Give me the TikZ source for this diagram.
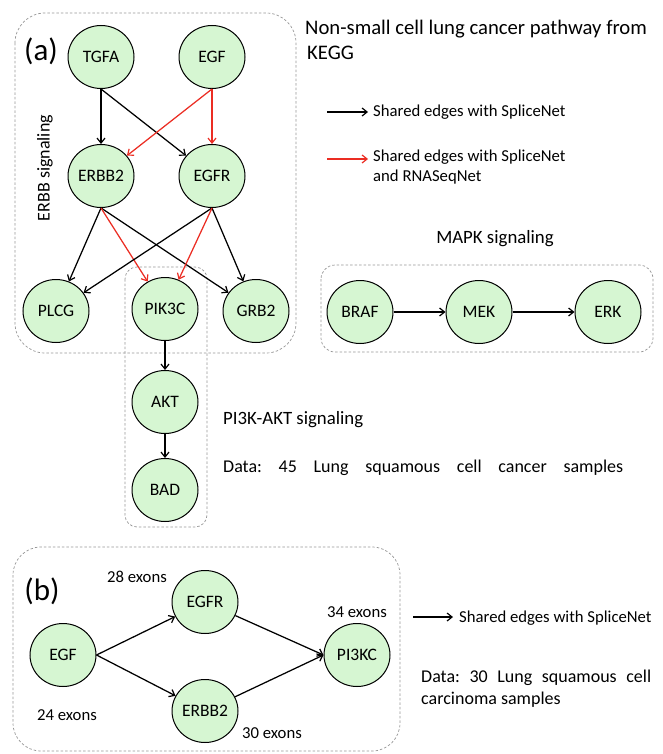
\documentclass[tikz,border=0pt]{standalone}
\usepackage{fontspec}
\setmainfont{Carlito}
\usetikzlibrary{arrows.meta,shapes.geometric}
\definecolor{nodefill}{RGB}{214,246,210}
\definecolor{boxgray}{RGB}{150,150,150}
\definecolor{edgered}{RGB}{235,45,35}
\tikzset{
  gene/.style={ellipse,draw=black,line width=1pt,fill=nodefill,minimum width=66pt,minimum height=63pt,inner sep=0pt,font=\fontsize{17.5}{19}\selectfont},
  groupbox/.style={draw=boxgray,line width=0.7pt,dash pattern=on 2.5pt off 2pt},
  blackedge/.style={draw=black,line width=1.25pt,-{Straight Barb[length=5pt,width=8pt,line width=1.2pt]}},
  rededge/.style={draw=edgered,line width=1.25pt,-{Straight Barb[length=5pt,width=8pt,line width=1.2pt]}},
  lbl/.style={inner sep=0pt,font=\fontsize{16.7}{20}\selectfont},
  head/.style={inner sep=0pt,font=\fontsize{18.8}{21}\selectfont},
  datatxt/.style={inner sep=0pt,font=\fontsize{18}{21}\selectfont\frenchspacing},
  panel/.style={inner sep=0pt,font=\fontsize{31}{34}\selectfont}
}
\begin{document}
\begin{tikzpicture}[x=1pt,y=-1pt]
\useasboundingbox (0,0) rectangle (663,754);
% group boxes
\draw[groupbox,rounded corners=30pt] (15,13) rectangle (296,353);
\draw[groupbox,rounded corners=12pt] (125,267) rectangle (207,527);
\draw[groupbox,rounded corners=14pt] (321,265) rectangle (653,352);
\draw[groupbox,rounded corners=28pt] (13,547) rectangle (400,751);
% panel a nodes
\node[gene] (tgfa) at (101,57) {TGFA};
\node[gene] (egf) at (212,57) {EGF};
\node[gene] (erbb2) at (101,176) {ERBB2};
\node[gene] (egfr) at (212,176) {EGFR};
\node[gene] (plcg) at (56,311) {PLCG};
\node[gene] (pik3c) at (165,309) {PIK3C};
\node[gene] (grb2) at (256,311) {GRB2};
\node[gene] (akt) at (165,402) {AKT};
\node[gene] (bad) at (165,490) {BAD};
\node[gene] (braf) at (360,312) {BRAF};
\node[gene] (mek) at (479,312) {MEK};
\node[gene] (erk) at (608,312) {ERK};
% panel a edges
\draw[blackedge] (tgfa.south) -- (erbb2);
\draw[blackedge] (tgfa.south) -- (egfr);
\draw[rededge] (egf.south) -- (erbb2);
\draw[rededge] (egf.south) -- (egfr);
\draw[blackedge] (erbb2.south) -- (plcg);
\draw[blackedge] (erbb2.south) -- (grb2);
\draw[rededge] (erbb2.south) -- (pik3c);
\draw[blackedge] (egfr.south) -- (plcg);
\draw[blackedge] (egfr.south) -- (grb2);
\draw[rededge] (egfr.south) -- (pik3c);
\draw[blackedge] (pik3c) -- (akt);
\draw[blackedge] (akt) -- (bad);
\draw[blackedge] (braf) -- (mek);
\draw[blackedge] (mek) -- (erk);
% panel a texts
\node[panel] (alabel) at (41,51) {(a)};
\node[inner sep=0pt,rotate=90,font=\fontsize{18}{20}\selectfont] (erbbsig) at (45,168) {ERBB signaling};
\node[inner sep=0pt,anchor=west,font=\fontsize{20.7}{24}\selectfont] (title1) at (305,29) {Non-small cell lung cancer pathway from};
\node[inner sep=0pt,anchor=west,font=\fontsize{20.7}{24}\selectfont] (title2) at (307,53) {KEGG};
\coordinate (l1s) at (327,112);
\coordinate (l1e) at (368,112);
\coordinate (l2s) at (327,159);
\coordinate (l2e) at (368,159);
\draw[blackedge] (l1s) -- (l1e);
\draw[rededge] (l2s) -- (l2e);
\node[lbl,anchor=west] (leg1) at (373,112) {Shared edges with SpliceNet};
\node[lbl,anchor=north west,align=left] (leg2) at (373,150) {Shared edges with SpliceNet\\and RNASeqNet};
\node[head] (mapksig) at (495,239) {MAPK signaling};
\node[head,anchor=west] (pisig) at (223,420) {PI3K-AKT signaling};
\node[datatxt,anchor=west] (data45) at (223,468) {\makebox[400pt][s]{Data: 45 Lung squamous cell cancer samples}};
% panel b
\node[gene] (begf) at (63,655) {EGF};
\node[gene] (begfr) at (205,602) {EGFR};
\node[gene] (berbb2) at (205,711) {ERBB2};
\node[gene] (bpi3kc) at (357,655) {PI3KC};
\draw[blackedge] (begf.east) -- (begfr);
\draw[blackedge] (begf.east) -- (berbb2);
\draw[blackedge] (begfr) -- (bpi3kc.west);
\draw[blackedge] (berbb2) -- (bpi3kc.west);
\node[panel] (blabel) at (42,591) {(b)};
\node[lbl] (ex28) at (137,577) {28 exons};
\node[lbl] (ex24) at (67,715) {24 exons};
\node[lbl] (ex30) at (272,733) {30 exons};
\node[lbl] (ex34) at (357,612) {34 exons};
\coordinate (l3s) at (413,617);
\coordinate (l3e) at (453,617);
\draw[blackedge] (l3s) -- (l3e);
\node[lbl,anchor=west] (leg3) at (459,618) {Shared edges with SpliceNet};
\node[datatxt,anchor=west] (data30) at (421,678) {\makebox[230pt][s]{Data: 30 Lung squamous cell}};
\node[datatxt,anchor=west] (data30b) at (421,700) {carcinoma samples};
\end{tikzpicture}
\end{document}
